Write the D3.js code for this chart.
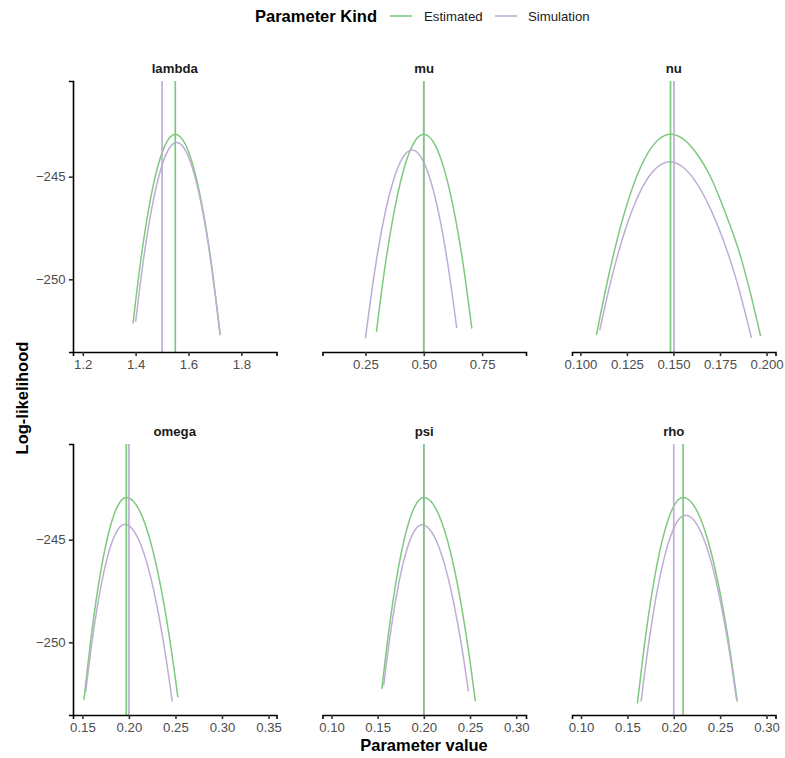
<!DOCTYPE html>
<html>
<head>
<meta charset="utf-8">
<script src="https://cdn.jsdelivr.net/npm/d3@7"></script>
<style>
body { margin: 0; background: #fff; }
text { font-family: "Liberation Sans", Arial, Helvetica, sans-serif; }
</style>
</head>
<body>
<svg id="chart"></svg>
<script>
var width = 785, height = 758

var params = ["lambda", "mu", "nu", "omega", "psi", "rho"]
var kinds = ["Estimated", "Simulation"]
var colors = ["#7FC97F", "#BEAED4"]

// vertical reference lines, one per panel
var estimatedValue = [1.55, 0.50, 0.1484, 0.1972, 0.20, 0.2101]
var simulationValue = [1.50, 0.50, 0.1503, 0.20, 0.20, 0.20]

// profile log-likelihood curves: [parameter value, log-likelihood]
var lambdaEstimated = [[1.39,-252.15],[1.42,-249.01],[1.45,-246.53],[1.48,-244.69],[1.51,-243.51],[1.55,-242.93],[1.59,-243.47],[1.62,-244.59],[1.65,-246.31],[1.68,-248.64],[1.72,-252.70]]
var lambdaSimulation = [[1.40,-252.07],[1.43,-249.01],[1.46,-246.62],[1.49,-244.87],[1.52,-243.78],[1.555,-243.34],[1.59,-243.76],[1.62,-244.80],[1.65,-246.45],[1.68,-248.73],[1.72,-252.73]]
var muEstimated = [[0.297,-252.56],[0.33,-249.68],[0.37,-246.88],[0.41,-244.82],[0.45,-243.51],[0.50,-242.93],[0.55,-243.49],[0.59,-244.74],[0.63,-246.70],[0.67,-249.37],[0.706,-252.40]]
var muSimulation = [[0.25,-252.88],[0.29,-249.58],[0.33,-247.00],[0.37,-245.17],[0.41,-244.07],[0.45,-243.70],[0.49,-244.08],[0.53,-245.22],[0.57,-247.12],[0.61,-249.79],[0.641,-252.37]]
var nuEstimated = [[0.1086,-252.72],[0.115,-249.90],[0.122,-247.29],[0.129,-245.28],[0.136,-243.89],[0.142,-243.19],[0.1484,-242.93],[0.155,-243.15],[0.162,-243.82],[0.170,-245.03],[0.178,-246.79],[0.186,-248.87],[0.191,-250.55],[0.1968,-252.77]]
var nuSimulation = [[0.1104,-252.48],[0.116,-250.22],[0.123,-247.90],[0.130,-246.15],[0.137,-244.97],[0.143,-244.42],[0.148,-244.27],[0.155,-244.53],[0.162,-245.25],[0.170,-246.59],[0.177,-248.14],[0.184,-250.10],[0.1919,-252.85]]
var omegaEstimated = [[0.1517,-252.80],[0.160,-249.53],[0.170,-246.47],[0.180,-244.36],[0.190,-243.20],[0.1972,-242.95],[0.205,-243.14],[0.215,-243.95],[0.225,-245.40],[0.235,-247.48],[0.245,-250.19],[0.2526,-252.68]]
var omegaSimulation = [[0.1535,-252.43],[0.160,-250.09],[0.170,-247.26],[0.180,-245.36],[0.190,-244.39],[0.1954,-244.25],[0.203,-244.44],[0.212,-245.16],[0.221,-246.41],[0.230,-248.20],[0.239,-250.52],[0.2466,-252.89]]
var psiEstimated = [[0.1546,-252.27],[0.162,-249.48],[0.171,-246.75],[0.180,-244.76],[0.190,-243.40],[0.200,-242.95],[0.210,-243.27],[0.220,-244.22],[0.230,-245.82],[0.240,-248.05],[0.248,-250.29],[0.2558,-252.87]]
var psiSimulation = [[0.1565,-252.11],[0.163,-249.84],[0.171,-247.57],[0.180,-245.73],[0.189,-244.63],[0.1978,-244.27],[0.206,-244.48],[0.215,-245.21],[0.224,-246.46],[0.233,-248.22],[0.241,-250.21],[0.2483,-252.39]]
var rhoEstimated = [[0.1608,-252.97],[0.168,-250.26],[0.177,-247.47],[0.186,-245.34],[0.195,-243.89],[0.203,-243.16],[0.2101,-242.95],[0.218,-243.13],[0.228,-243.88],[0.238,-245.22],[0.248,-247.14],[0.258,-249.64],[0.2685,-252.89]]
var rhoSimulation = [[0.1648,-252.89],[0.172,-250.36],[0.180,-248.03],[0.189,-246.02],[0.198,-244.66],[0.206,-243.98],[0.2126,-243.81],[0.220,-243.97],[0.230,-244.70],[0.240,-246.02],[0.250,-247.94],[0.259,-250.16],[0.2678,-252.80]]

var curvesEstimated = [lambdaEstimated, muEstimated, nuEstimated, omegaEstimated, psiEstimated, rhoEstimated]
var curvesSimulation = [lambdaSimulation, muSimulation, nuSimulation, omegaSimulation, psiSimulation, rhoSimulation]

// free x scales per facet
var xDomains = [[1.163, 1.933], [0.066, 0.938], [0.0955, 0.2048], [0.1399, 0.3586], [0.0903, 0.3106], [0.0903, 0.3097]]
var xTicks = [[1.2, 1.4, 1.6, 1.8], [0.25, 0.5, 0.75], [0.1, 0.125, 0.15, 0.175, 0.2], [0.15, 0.2, 0.25, 0.3, 0.35], [0.1, 0.15, 0.2, 0.25, 0.3], [0.1, 0.15, 0.2, 0.25, 0.3]]
var xTickFormats = [".1f", ".2f", ".3f", ".2f", ".2f", ".2f"]
var yDomain = [-253.54, -240.34]
var yTicks = [-250, -245]

var panelW = 203.5, panelH = 271
var tickLen = 4.1, tickPad = 3.3

var svg = d3.select("#chart")
    .attr("width", width)
    .attr("height", height)

var y = d3.scaleLinear().domain(yDomain).range([panelH, 0])

params.forEach(function (p, i) {
    var col = i % 3, row = Math.floor(i / 3)
    var x0 = 73 + col * 249.5, y0 = 81 + row * 363
    var x = d3.scaleLinear().domain(xDomains[i]).range([0, panelW])

    var g = svg.append("g").attr("transform", "translate(" + x0 + "," + y0 + ")")

    var line = d3.line()
        .x(d => x(d[0]))
        .y(d => y(d[1]))
        .curve(d3.curveMonotoneX)

    // curves: estimated first, simulation on top
    ;[curvesEstimated[i], curvesSimulation[i]].forEach(function (c, k) {
        g.append("path")
            .attr("d", line(c))
            .attr("fill", "none")
            .attr("stroke", colors[k])
            .attr("stroke-width", 1.5)
    })

    // vlines: simulation under estimated
    ;[[simulationValue[i], 1], [estimatedValue[i], 0]].forEach(function (v) {
        g.append("line")
            .attr("x1", x(v[0])).attr("x2", x(v[0]))
            .attr("y1", 0).attr("y2", panelH)
            .attr("stroke", colors[v[1]])
            .attr("stroke-width", 1.7)
    })

    var xAxis = g.append("g")
        .attr("transform", "translate(0," + panelH + ")")
        .call(d3.axisBottom(x)
            .tickValues(xTicks[i])
            .tickFormat(d3.format(xTickFormats[i]))
            .tickSizeOuter(0)
            .tickSize(tickLen)
            .tickPadding(tickPad))
    styleAxis(xAxis)

    if (col === 0) {
        var yAxis = g.append("g")
            .call(d3.axisLeft(y)
                .tickValues(yTicks)
                .tickFormat(d3.format("d"))
                .tickSizeOuter(0)
                .tickSize(tickLen)
                .tickPadding(tickPad))
        styleAxis(yAxis)
    }

    // strip label
    g.append("text")
        .attr("x", panelW / 2)
        .attr("y", -12.7)
        .attr("dy", "0.35em")
        .attr("text-anchor", "middle")
        .style("font-size", "13.2px")
        .style("font-weight", "bold")
        .attr("fill", "#1A1A1A")
        .text(p)
})

function styleAxis(a) {
    a.select(".domain").attr("stroke", "#000").attr("stroke-width", 1.6)
    a.selectAll(".tick line").attr("stroke", "#333").attr("stroke-width", 1.6)
    a.selectAll(".tick text")
        .attr("fill", "#4D4D4D")
        .style("font-size", "13.2px")
        .style("font-family", "'Liberation Sans', Arial, Helvetica, sans-serif")
}

// axis titles
svg.append("text")
    .attr("x", 424)
    .attr("y", 745)
    .attr("dy", "0.35em")
    .attr("text-anchor", "middle")
    .style("font-size", "16.5px")
    .style("font-weight", "bold")
    .text("Parameter value")

svg.append("text")
    .attr("transform", "translate(22,398) rotate(-90)")
    .attr("dy", "0.35em")
    .attr("text-anchor", "middle")
    .style("font-size", "16.5px")
    .style("font-weight", "bold")
    .text("Log-likelihood")

// legend
var legend = svg.append("g").attr("transform", "translate(0,16)")
legend.append("text")
    .attr("x", 255)
    .attr("dy", "0.35em")
    .style("font-size", "16.5px")
    .style("font-weight", "bold")
    .text("Parameter Kind")

var keyX = [390, 495], labelX = [424, 528]
kinds.forEach(function (k, i) {
    legend.append("line")
        .attr("x1", keyX[i]).attr("x2", keyX[i] + 22)
        .attr("stroke", colors[i])
        .attr("stroke-width", 1.6)
    legend.append("text")
        .attr("x", labelX[i])
        .attr("dy", "0.35em")
        .style("font-size", "13.2px")
        .attr("fill", "#1A1A1A")
        .text(k)
})
</script>
</body>
</html>
